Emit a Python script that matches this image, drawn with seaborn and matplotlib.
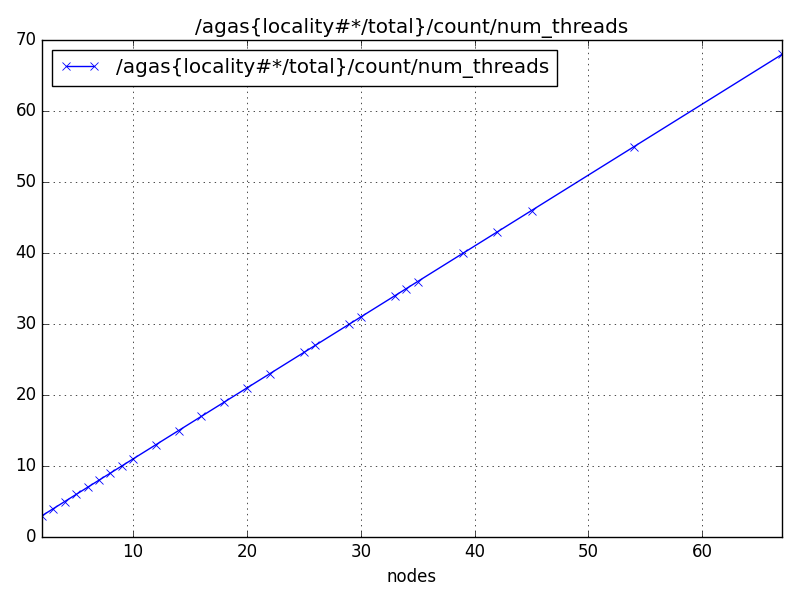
import numpy as np
import pandas as pd
import matplotlib
matplotlib.use("Agg")
import matplotlib.pyplot as plt
import seaborn as sns

nodes = [2, 3, 4, 5, 6, 7, 8, 9, 10, 12, 14, 16, 18, 20, 22, 25, 26,
         29, 30, 33, 34, 35, 39, 42, 45, 54, 67]
num_threads = [3, 4, 5, 6, 7, 8, 9, 10, 11, 13, 15, 17, 19, 21, 23, 26, 27,
               30, 31, 34, 35, 36, 40, 43, 46, 55, 68]
label = "/agas{locality#*/total}/count/num_threads"

df = pd.DataFrame({"nodes": nodes, "num_threads": num_threads})

plt.style.use("classic")
plt.rcParams["font.family"] = ["DejaVu Sans"]

fig, ax = plt.subplots(figsize=(8, 6), dpi=100)
fig.patch.set_facecolor("white")
sns.lineplot(data=df, x="nodes", y="num_threads", ax=ax, color="blue",
             marker="x", markersize=6, markeredgecolor="blue",
             markeredgewidth=0.6, linewidth=1, label=label)
ax.set_xlim(2, 67)
ax.set_ylim(0, 70)
ax.set_xlabel("nodes")
ax.set_ylabel("")
ax.set_title(label)
ax.grid(True, color="black", linestyle=":", linewidth=0.5)
ax.legend(loc="upper left", numpoints=2)
fig.subplots_adjust(left=0.0525, right=0.9775, top=0.933, bottom=0.105)
fig.savefig("out.png", dpi=100)
